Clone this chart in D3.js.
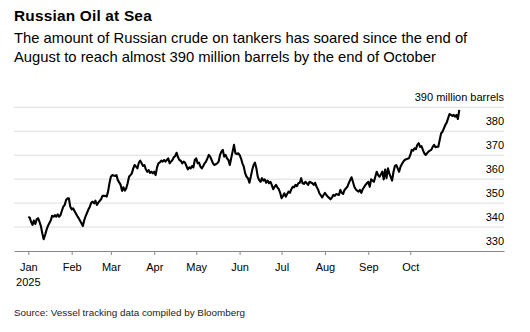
<!DOCTYPE html>
<html>
<head>
<meta charset="utf-8">
<script src="https://cdn.jsdelivr.net/npm/d3@7"></script>
<style>
  html, body { margin: 0; padding: 0; background: #fff; }
  svg { display: block; font-family: "Liberation Sans", Arial, sans-serif; }
</style>
</head>
<body>
<svg id="chart" width="530" height="332"></svg>
<script>
// ---- Data ----
const title = "Russian Oil at Sea";
const subtitleLines = [
  "The amount of Russian crude on tankers has soared since the end of",
  "August to reach almost 390 million barrels by the end of October"
];
const source = "Source: Vessel tracking data compiled by Bloomberg";
const unitLabel = "390 million barrels";

// days since 2025-01-01
const dayOffsets = [
  0,1,2,3,4,5,6,7,8,9,10,11,12,13,14,16,17,18,19,20,21,22,23,24,25,26,27,28,29,30,
  31,32,34,35,36,38,39,40,41,43,44,45,46,47,48,49,50,52,53,55,56,57,58,59,60,62,63,64,66,67,
  68,69,70,71,72,73,74,75,76,77,78,79,80,81,82,83,84,85,86,87,88,89,90,91,92,93,94,95,96,97,
  98,99,100,101,102,103,104,105,106,107,108,109,110,111,112,113,114,115,116,117,118,119,120,121,122,123,124,125,126,127,
  128,129,130,131,132,133,135,136,137,138,139,140,141,142,143,144,145,146,147,148,149,150,151,152,153,154,155,156,157,158,
  159,160,161,162,163,164,165,166,167,168,169,170,171,172,173,174,175,176,177,178,179,180,181,182,183,184,185,186,187,188,
  189,190,191,192,193,194,195,196,197,198,199,200,201,203,204,205,206,207,208,210,211,212,213,214,216,217,218,219,220,222,
  223,224,225,226,228,229,230,231,232,233,234,235,236,237,238,239,241,242,243,244,245,247,248,249,250,251,253,254,255,256,
  257,258,260,261,262,263,264,265,266,267,268,269,270,272,273,274,275,276,277,278,279,280,281,282,283,284,285,286,287,288,
  289,290,291,292,293,294,295,296,297,298,299,300,301,302,303,304,305,306,307,308
];
// million barrels of Russian crude on tankers
const barrels = [
  344.3,343.9,342.2,340.9,342.7,341.3,343.2,343.7,342.2,340.4,337.4,334.9,336.7,338.8,340.4,342.7,344.7,344.3,345.0,344.3,345.3,344.3,345.0,346.8,348.5,349.2,351.3,352.0,352.0,348.5,
  347.4,347.8,345.7,344.6,343.7,341.6,340.4,342.9,344.6,347.4,348.5,350.2,350.6,349.9,351.0,349.2,350.2,351.6,353.0,353.0,352.7,354.8,358.3,361.0,361.7,361.3,361.7,359.6,357.6,355.1,
  356.6,355.2,356.2,358.3,361.0,361.7,362.4,364.5,365.9,365.2,364.5,366.9,367.7,366.6,365.5,365.9,364.1,363.1,363.8,362.6,363.1,362.4,363.1,361.7,364.9,366.6,367.0,367.7,367.3,368.0,
  367.3,368.0,368.7,366.6,367.3,368.0,369.1,369.7,371.0,369.1,368.0,367.7,366.6,367.3,366.9,365.5,364.1,364.9,364.5,365.5,364.9,368.0,368.7,366.6,366.9,365.2,364.5,365.5,366.6,367.3,
  368.7,370.1,369.4,368.0,366.6,365.9,366.6,367.3,370.1,371.5,372.2,369.4,370.1,368.7,368.0,365.9,368.7,371.5,374.3,370.8,370.5,370.8,370.1,368.7,366.6,365.2,362.4,361.0,360.4,358.5,
  361.0,363.8,365.9,366.9,364.5,361.0,359.6,358.9,360.4,359.4,359.9,358.5,359.4,358.3,358.9,357.6,355.8,356.8,357.6,356.6,355.8,354.3,352.0,353.0,354.1,352.7,353.8,354.8,354.3,355.8,
  356.8,356.6,357.6,357.1,358.3,358.5,360.4,358.3,358.0,358.9,358.3,357.6,358.9,358.3,357.6,358.5,356.8,355.8,354.1,352.4,353.4,354.3,353.4,352.7,351.6,352.4,353.4,353.0,353.8,353.4,
  355.5,354.3,353.8,355.5,356.8,358.3,359.6,360.8,358.9,356.8,355.8,355.2,354.8,355.5,354.3,355.8,357.6,358.3,358.9,356.8,359.9,358.9,361.0,363.1,361.7,361.0,363.1,359.9,364.0,360.4,
  364.5,362.4,359.4,363.1,365.5,365.9,364.5,363.1,365.2,366.3,367.3,368.0,368.3,368.7,370.1,372.2,371.9,372.9,372.5,374.3,375.0,373.5,373.8,372.2,370.8,370.1,370.8,371.5,371.9,372.2,
  373.5,374.3,373.3,373.5,373.5,376.3,379.1,379.8,381.2,382.6,383.6,385.4,387.2,386.8,386.4,386.8,386.1,386.8,385.1,388.9
];

const yTicks = [330, 340, 350, 360, 370, 380, 390];
const monthTickLabels = ["Jan", "Feb", "Mar", "Apr", "May", "Jun", "Jul", "Aug", "Sep", "Oct"];
const yearLabel = "2025";

// ---- Build ----
const startDate = new Date(2025, 0, 1);
const data = dayOffsets.map((d, i) => ({ date: d3.timeDay.offset(startDate, d), value: barrels[i] }));
const monthTicks = monthTickLabels.map((m, i) => new Date(2025, i, 1));

const svg = d3.select("#chart");
const plotLeft = 14, plotRight = 504;
const base = d3.scaleTime()
  .domain([new Date(2025, 0, 1), new Date(2025, 9, 1)])
  .range([28.3, 410.3]);
const x = d3.scaleTime()
  .domain([base.invert(plotLeft), base.invert(plotRight)])
  .range([plotLeft, plotRight]);
const y = d3.scaleLinear().domain([330, 390]).range([251, 107.3]);

// Title & subtitle
svg.append("text").attr("x", 14).attr("y", 21)
  .attr("font-size", 15.4).attr("font-weight", "bold").attr("fill", "#000")
  .attr("letter-spacing", 0.2)
  .text(title);
svg.selectAll("text.sub").data(subtitleLines).join("text")
  .attr("class", "sub")
  .attr("x", 14).attr("y", (d, i) => 42.5 + i * 19)
  .attr("font-size", 14.8).attr("fill", "#000")
  .text(d => d);

// Gridlines
svg.append("g").selectAll("line").data(yTicks.filter(t => t !== 330)).join("line")
  .attr("x1", plotLeft).attr("x2", plotRight)
  .attr("y1", d => y(d)).attr("y2", d => y(d))
  .attr("stroke", "#dedede").attr("stroke-width", 1);

// Y labels (sit just above their gridline, right aligned)
svg.append("g").selectAll("text").data(yTicks.filter(t => t !== 390)).join("text")
  .attr("x", plotRight).attr("y", d => y(d) - 6)
  .attr("text-anchor", "end").attr("font-size", 11).attr("fill", "#000")
  .text(d => d);
svg.append("text").attr("x", plotRight).attr("y", y(390) - 6)
  .attr("text-anchor", "end").attr("font-size", 11).attr("fill", "#000")
  .text(unitLabel);

// X axis
const xAxis = d3.axisBottom(x)
  .tickValues(monthTicks)
  .tickSize(4)
  .tickSizeOuter(0)
  .tickFormat((d, i) => monthTickLabels[i]);
const gx = svg.append("g").attr("transform", `translate(0,${y(330)})`).call(xAxis);
gx.select(".domain").attr("stroke", "#888").attr("stroke-width", 1.2);
gx.selectAll(".tick line").attr("stroke", "#888");
gx.selectAll(".tick text").attr("font-size", 11).attr("fill", "#000")
  .attr("font-family", "Liberation Sans, Arial, sans-serif").attr("dy", "0.71em").attr("y", 12);
svg.append("text").attr("x", x(monthTicks[0])).attr("y", 285.5)
  .attr("text-anchor", "middle").attr("font-size", 11).attr("fill", "#000")
  .text(yearLabel);

// Line
const line = d3.line().x(d => x(d.date)).y(d => y(d.value));
svg.append("path").datum(data)
  .attr("d", line)
  .attr("fill", "none").attr("stroke", "#000")
  .attr("stroke-width", 2.1).attr("stroke-linejoin", "round");

// Source
svg.append("text").attr("x", 14).attr("y", 315.5)
  .attr("font-size", 9.9).attr("fill", "#222")
  .text(source);
</script>
</body>
</html>
